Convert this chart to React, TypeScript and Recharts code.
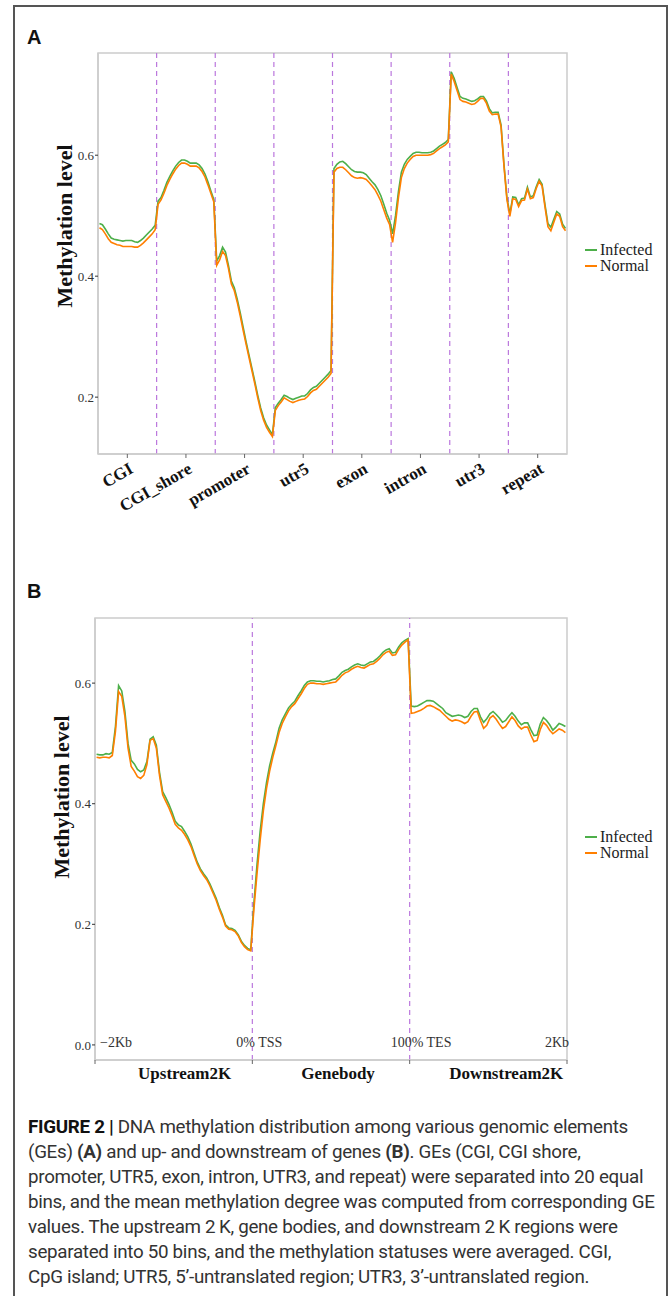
import React from 'react';
import { LineChart, Line, XAxis, YAxis, ReferenceLine, ReferenceArea, Legend } from 'recharts';

const SERIF = '"Liberation Serif", "Times New Roman", serif';
const SANS = '"Liberation Sans", Arial, sans-serif';
const CAPTION_FONT = 'Roboto, "Liberation Sans", sans-serif';
const GREEN = '#4daf4a';
const ORANGE = '#ff7f00';
const DASH = '#bb77dd';
const FRAME = '#cccccc';

// ---------- Panel A: genomic elements, 20 bins each ----------
const elementNames = ['CGI', 'CGI_shore', 'promoter', 'utr5', 'exon', 'intron', 'utr3', 'repeat'];

const infectedCGI = [0.487, 0.485, 0.478, 0.470, 0.463, 0.461, 0.460, 0.459, 0.458, 0.459, 0.459, 0.459, 0.457, 0.456, 0.459, 0.463, 0.468, 0.473, 0.478, 0.484];
const normalCGI = [0.480, 0.477, 0.470, 0.462, 0.456, 0.454, 0.452, 0.451, 0.449, 0.449, 0.449, 0.449, 0.448, 0.448, 0.451, 0.455, 0.460, 0.465, 0.470, 0.477];
const infectedShore = [0.524, 0.530, 0.542, 0.555, 0.565, 0.574, 0.582, 0.588, 0.592, 0.592, 0.590, 0.587, 0.587, 0.587, 0.584, 0.578, 0.569, 0.556, 0.541, 0.527];
const normalShore = [0.519, 0.526, 0.537, 0.550, 0.560, 0.569, 0.577, 0.583, 0.587, 0.587, 0.585, 0.582, 0.582, 0.582, 0.579, 0.573, 0.564, 0.551, 0.537, 0.523];
const infectedPromoter = [0.425, 0.434, 0.448, 0.440, 0.418, 0.392, 0.381, 0.362, 0.340, 0.316, 0.292, 0.270, 0.248, 0.226, 0.203, 0.182, 0.166, 0.154, 0.146, 0.138];
const normalPromoter = [0.418, 0.427, 0.441, 0.434, 0.413, 0.387, 0.376, 0.357, 0.335, 0.311, 0.288, 0.266, 0.244, 0.222, 0.199, 0.178, 0.162, 0.150, 0.142, 0.135];
const infectedUtr5 = [0.183, 0.190, 0.196, 0.203, 0.201, 0.198, 0.196, 0.198, 0.200, 0.202, 0.202, 0.206, 0.212, 0.216, 0.218, 0.223, 0.228, 0.233, 0.238, 0.244];
const normalUtr5 = [0.178, 0.186, 0.192, 0.199, 0.196, 0.193, 0.191, 0.193, 0.195, 0.196, 0.197, 0.201, 0.207, 0.211, 0.213, 0.218, 0.223, 0.228, 0.233, 0.239];
const infectedExon = [0.578, 0.585, 0.589, 0.590, 0.586, 0.581, 0.576, 0.573, 0.572, 0.572, 0.571, 0.568, 0.562, 0.556, 0.551, 0.543, 0.533, 0.519, 0.504, 0.492];
const normalExon = [0.572, 0.578, 0.580, 0.580, 0.576, 0.571, 0.566, 0.563, 0.562, 0.563, 0.562, 0.560, 0.555, 0.549, 0.543, 0.534, 0.524, 0.510, 0.496, 0.485];
const infectedIntron = [0.470, 0.500, 0.540, 0.572, 0.585, 0.593, 0.598, 0.603, 0.605, 0.605, 0.604, 0.604, 0.604, 0.605, 0.607, 0.611, 0.615, 0.618, 0.621, 0.626];
const normalIntron = [0.456, 0.488, 0.530, 0.563, 0.578, 0.587, 0.593, 0.598, 0.600, 0.600, 0.600, 0.600, 0.600, 0.601, 0.603, 0.607, 0.611, 0.614, 0.617, 0.622];
const infectedUtr3 = [0.738, 0.727, 0.712, 0.697, 0.694, 0.693, 0.691, 0.689, 0.690, 0.693, 0.697, 0.697, 0.690, 0.677, 0.670, 0.671, 0.671, 0.650, 0.585, 0.530];
const normalUtr3 = [0.734, 0.722, 0.707, 0.692, 0.689, 0.688, 0.686, 0.684, 0.685, 0.689, 0.694, 0.694, 0.686, 0.673, 0.667, 0.668, 0.668, 0.647, 0.582, 0.527];
const infectedRepeat = [0.503, 0.531, 0.530, 0.518, 0.528, 0.529, 0.547, 0.531, 0.533, 0.548, 0.560, 0.552, 0.518, 0.487, 0.481, 0.494, 0.507, 0.503, 0.486, 0.479];
const normalRepeat = [0.499, 0.528, 0.527, 0.515, 0.525, 0.526, 0.544, 0.528, 0.530, 0.545, 0.557, 0.549, 0.514, 0.482, 0.475, 0.489, 0.503, 0.499, 0.482, 0.475];

const yTicksA = [0.2, 0.4, 0.6];

// ---------- Panel B: upstream / gene body / downstream, 50 bins each ----------
const regionNames = ['Upstream2K', 'Genebody', 'Downstream2K'];
const edgeLabels = ['\u22122Kb', '0% TSS', '100% TES', '2Kb'];

const infectedUp = [0.482, 0.481, 0.481, 0.483, 0.482, 0.485, 0.528, 0.596, 0.587, 0.553, 0.500, 0.472, 0.466, 0.457, 0.453, 0.456, 0.470, 0.507, 0.511, 0.497, 0.452, 0.420, 0.410, 0.399, 0.386, 0.371, 0.365, 0.362, 0.354, 0.345, 0.333, 0.318, 0.303, 0.292, 0.284, 0.277, 0.267, 0.255, 0.243, 0.228, 0.215, 0.199, 0.194, 0.193, 0.190, 0.183, 0.172, 0.165, 0.160, 0.158];
const normalUp = [0.477, 0.476, 0.477, 0.477, 0.476, 0.480, 0.520, 0.586, 0.578, 0.545, 0.492, 0.462, 0.454, 0.445, 0.442, 0.447, 0.465, 0.505, 0.508, 0.492, 0.447, 0.415, 0.404, 0.393, 0.380, 0.366, 0.360, 0.356, 0.349, 0.340, 0.329, 0.314, 0.300, 0.289, 0.281, 0.274, 0.264, 0.252, 0.240, 0.225, 0.212, 0.197, 0.192, 0.191, 0.188, 0.181, 0.170, 0.163, 0.158, 0.156];
const infectedBody = [0.235, 0.300, 0.355, 0.400, 0.435, 0.463, 0.484, 0.503, 0.525, 0.539, 0.549, 0.559, 0.565, 0.570, 0.579, 0.587, 0.596, 0.602, 0.604, 0.604, 0.603, 0.603, 0.602, 0.603, 0.604, 0.606, 0.607, 0.612, 0.618, 0.621, 0.623, 0.627, 0.630, 0.632, 0.630, 0.629, 0.632, 0.635, 0.636, 0.640, 0.645, 0.651, 0.655, 0.657, 0.650, 0.651, 0.660, 0.667, 0.671, 0.674];
const normalBody = [0.225, 0.285, 0.340, 0.388, 0.425, 0.454, 0.477, 0.497, 0.518, 0.533, 0.544, 0.554, 0.561, 0.566, 0.574, 0.582, 0.591, 0.598, 0.600, 0.600, 0.599, 0.599, 0.598, 0.599, 0.600, 0.601, 0.602, 0.607, 0.613, 0.617, 0.619, 0.623, 0.626, 0.628, 0.626, 0.625, 0.628, 0.631, 0.632, 0.636, 0.641, 0.647, 0.651, 0.653, 0.646, 0.647, 0.656, 0.663, 0.668, 0.672];
const infectedDown = [0.562, 0.561, 0.562, 0.565, 0.568, 0.571, 0.571, 0.570, 0.566, 0.562, 0.558, 0.551, 0.548, 0.545, 0.546, 0.547, 0.546, 0.543, 0.545, 0.553, 0.558, 0.558, 0.544, 0.535, 0.541, 0.549, 0.553, 0.548, 0.542, 0.535, 0.538, 0.545, 0.551, 0.545, 0.537, 0.531, 0.534, 0.534, 0.523, 0.513, 0.514, 0.532, 0.543, 0.538, 0.531, 0.522, 0.527, 0.533, 0.531, 0.528];
const normalDown = [0.550, 0.551, 0.553, 0.555, 0.558, 0.562, 0.563, 0.561, 0.558, 0.555, 0.550, 0.545, 0.540, 0.537, 0.539, 0.538, 0.536, 0.533, 0.536, 0.545, 0.552, 0.553, 0.538, 0.525, 0.530, 0.542, 0.546, 0.540, 0.532, 0.525, 0.528, 0.536, 0.544, 0.538, 0.529, 0.524, 0.527, 0.527, 0.514, 0.503, 0.505, 0.523, 0.535, 0.530, 0.522, 0.516, 0.520, 0.524, 0.522, 0.518];

const yTicksB = [0, 0.2, 0.4, 0.6];

// ---------- tables built from the arrays ----------
const infectedA = [infectedCGI, infectedShore, infectedPromoter, infectedUtr5, infectedExon, infectedIntron, infectedUtr3, infectedRepeat];
const normalA = [normalCGI, normalShore, normalPromoter, normalUtr5, normalExon, normalIntron, normalUtr3, normalRepeat];
const BINS_A = infectedCGI.length;
const rowsA = infectedA.flatMap((vals, g) =>
  vals.map((v, i) => ({ x: g * BINS_A + i + 0.5, infected: v, normal: normalA[g][i] }))
);
const spanA = elementNames.length * BINS_A;
const elementTicks = elementNames.map((_, g) => g * BINS_A + BINS_A / 2);
const elementBounds = elementNames.slice(1).map((_, g) => (g + 1) * BINS_A);

const infectedB = [infectedUp, infectedBody, infectedDown];
const normalB = [normalUp, normalBody, normalDown];
const BINS_B = infectedUp.length;
const rowsB = infectedB.flatMap((vals, r) =>
  vals.map((v, i) => ({ x: r * BINS_B + i + 0.5, infected: v, normal: normalB[r][i] }))
);
const spanB = regionNames.length * BINS_B;
const regionTicks = regionNames.flatMap((_, r) => [r * BINS_B, r * BINS_B + BINS_B / 2]).concat(spanB);
const edgePositions = edgeLabels.map((_, k) => k * BINS_B);

const Y_A: [number, number] = [0.106, 0.769];
const Y_B: [number, number] = [-0.025, 0.708];

// ---------- small renderers ----------
function ElementTick(props: any) {
  const { x, y, payload } = props;
  const name = elementNames[Math.round((payload.value - BINS_A / 2) / BINS_A)];
  const px = x + 7;
  const py = y + 12;
  return (
    <text x={px} y={py} textAnchor="end" transform={`rotate(-30 ${px} ${py})`}
      fontFamily={SERIF} fontWeight="bold" fontSize={17} fill="#111">
      {name}
    </text>
  );
}

const REGION_DX = [11, 7, 18];

function RegionTick(props: any) {
  const { x, y, payload } = props;
  const v = payload.value;
  if (v % BINS_B === 0) {
    return <line x1={x} x2={x} y1={y - 6} y2={y - 2} stroke="#666" strokeWidth={1} />;
  }
  const idx = Math.floor(v / BINS_B);
  return (
    <text x={x + REGION_DX[idx]} y={y + 13} textAnchor="middle"
      fontFamily={SERIF} fontWeight="bold" fontSize={17} fill="#111">
      {regionNames[idx]}
    </text>
  );
}

function AxisTitle({ tx, ty }: any) {
  return (
    <text x={tx} y={ty} transform={`rotate(-90 ${tx} ${ty})`} textAnchor="middle"
      fontFamily={SERIF} fontWeight="bold" fontSize={22} fill="#111">
      Methylation level
    </text>
  );
}

function MarkLabel({ viewBox, text, dx, anchor }: any) {
  if (!viewBox) return null;
  return (
    <text x={viewBox.x + dx} y={viewBox.y + viewBox.height - 13} textAnchor={anchor}
      fontFamily={SERIF} fontSize={14} fill="#333">
      {text}
    </text>
  );
}

const EDGE_STYLE = [
  { dx: 5, anchor: 'start' },
  { dx: -16, anchor: 'start' },
  { dx: -19, anchor: 'start' },
  { dx: 2, anchor: 'end' },
];

function LegendBox({ payload }: any) {
  return (
    <div style={{ fontFamily: SERIF, fontSize: 16, color: '#222', lineHeight: '16px' }}>
      {(payload ?? []).map((item: any) => (
        <div key={item.value} style={{ display: 'flex', alignItems: 'center', height: 16 }}>
          <span style={{ display: 'inline-block', width: 12, height: 2, background: item.color, marginRight: 3 }} />
          <span>{item.value}</span>
        </div>
      ))}
    </div>
  );
}

const yTick = { fontSize: 13, fill: '#333', fontFamily: SERIF };

export default function App() {
  return (
    <div style={{ position: 'absolute', left: 0, top: 0, width: 672, height: 1296, background: '#fff', overflow: 'hidden' }}>
      {/* outer figure frame */}
      <div style={{
        position: 'absolute', left: 13, top: 5, width: 655, height: 1320, boxSizing: 'border-box',
        borderLeft: '2px solid #555', borderTop: '2px solid #555', borderRight: '2px solid #555',
      }} />

      <div style={{ position: 'absolute', left: 27, top: 27, fontFamily: SANS, fontWeight: 'bold', fontSize: 20, lineHeight: '20px', color: '#111' }}>A</div>
      <div style={{ position: 'absolute', left: 27, top: 581, fontFamily: SANS, fontWeight: 'bold', fontSize: 20, lineHeight: '20px', color: '#111' }}>B</div>

      {/* Panel A */}
      <div style={{ position: 'absolute', left: 0, top: 0 }}>
        <LineChart width={672} height={540} data={rowsA} margin={{ top: 53, right: 105, bottom: 0, left: 0 }}>
          <ReferenceArea x1={0} x2={spanA} y1={Y_A[0]} y2={Y_A[1]} fill="none" stroke={FRAME} strokeWidth={1.5} />
          <XAxis dataKey="x" type="number" domain={[0, spanA]} ticks={elementTicks} interval={0}
            height={86} tickSize={4} tickMargin={2} tickLine={{ stroke: '#666' }}
            axisLine={{ stroke: FRAME, strokeWidth: 1.5 }} tick={<ElementTick />} allowDataOverflow />
          <YAxis type="number" domain={Y_A} ticks={yTicksA} width={98} tickSize={3} tickMargin={1}
            tickFormatter={(v: number) => v.toFixed(1)} tick={yTick} tickLine={{ stroke: '#333' }}
            axisLine={{ stroke: FRAME, strokeWidth: 1.5 }} allowDataOverflow
            label={<AxisTitle tx={72} ty={226} />} />
          {elementBounds.map((b) => (
            <ReferenceLine key={b} x={b} stroke={DASH} strokeWidth={1.2} strokeDasharray="5 4" />
          ))}
          <Line type="linear" dataKey="infected" name="Infected" stroke={GREEN} strokeWidth={1.6} dot={false} isAnimationActive={false} />
          <Line type="linear" dataKey="normal" name="Normal" stroke={ORANGE} strokeWidth={1.6} dot={false} isAnimationActive={false} />
          <Legend layout="vertical" align="center" verticalAlign="middle" content={<LegendBox />}
            wrapperStyle={{ left: 585, top: 242, width: 85 }} />
        </LineChart>
      </div>

      {/* Panel B */}
      <div style={{ position: 'absolute', left: 0, top: 560 }}>
        <LineChart width={672} height={560} data={rowsB} margin={{ top: 58, right: 105, bottom: 0, left: 0 }}>
          <ReferenceArea x1={0} x2={spanB} y1={Y_B[0]} y2={Y_B[1]} fill="none" stroke={FRAME} strokeWidth={1.5} />
          <XAxis dataKey="x" type="number" domain={[0, spanB]} ticks={regionTicks} interval={0}
            height={60} tickSize={4} tickMargin={2} tickLine={false}
            axisLine={{ stroke: FRAME, strokeWidth: 1.5 }} tick={<RegionTick />} allowDataOverflow />
          <YAxis type="number" domain={Y_B} ticks={yTicksB} width={95} tickSize={3} tickMargin={1}
            tickFormatter={(v: number) => v.toFixed(1)} tick={yTick} tickLine={{ stroke: '#333' }}
            axisLine={{ stroke: FRAME, strokeWidth: 1.5 }} allowDataOverflow
            label={<AxisTitle tx={69} ty={237} />} />
          {edgePositions.map((p, k) => {
            const inner = k > 0 && k < edgePositions.length - 1;
            return (
              <ReferenceLine key={p} x={p} stroke={inner ? DASH : 'none'} strokeWidth={1.2} strokeDasharray="5 4"
                label={<MarkLabel text={edgeLabels[k]} dx={EDGE_STYLE[k].dx} anchor={EDGE_STYLE[k].anchor} />} />
            );
          })}
          <Line type="linear" dataKey="infected" name="Infected" stroke={GREEN} strokeWidth={1.6} dot={false} isAnimationActive={false} />
          <Line type="linear" dataKey="normal" name="Normal" stroke={ORANGE} strokeWidth={1.6} dot={false} isAnimationActive={false} />
          <Legend layout="vertical" align="center" verticalAlign="middle" content={<LegendBox />}
            wrapperStyle={{ left: 585, top: 269, width: 85 }} />
        </LineChart>
      </div>

      {/* caption */}
      <div style={{
        position: 'absolute', left: 28, top: 1115, fontFamily: CAPTION_FONT, fontSize: 18.8,
        lineHeight: '25px', color: '#333', whiteSpace: 'nowrap', letterSpacing: '-0.3px',
      }}>
        <div><b style={{ color: '#111' }}>FIGURE 2 |</b> DNA methylation distribution among various genomic elements</div>
        <div>(GEs) <b>(A)</b> and up- and downstream of genes <b>(B)</b>. GEs (CGI, CGI shore,</div>
        <div>promoter, UTR5, exon, intron, UTR3, and repeat) were separated into 20 equal</div>
        <div>bins, and the mean methylation degree was computed from corresponding GE</div>
        <div>values. The upstream 2{'\u2009'}K, gene bodies, and downstream 2{'\u2009'}K regions were</div>
        <div>separated into 50 bins, and the methylation statuses were averaged. CGI,</div>
        <div>CpG island; UTR5, 5{'\u2019'}-untranslated region; UTR3, 3{'\u2019'}-untranslated region.</div>
      </div>
    </div>
  );
}
